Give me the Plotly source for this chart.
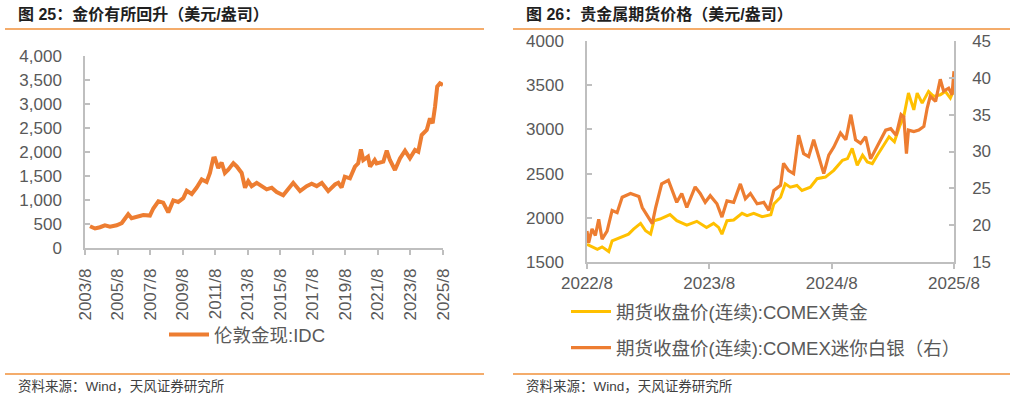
import plotly.graph_objects as go

# ---------------- data ----------------
idc_dates = [
    "2003-11-21", "2004-03-12", "2004-07-03", "2004-10-21", "2005-02-12", "2005-07-12",
    "2005-11-03", "2006-03-28", "2006-06-12", "2006-10-03", "2007-03-01", "2007-07-28",
    "2007-10-12", "2008-02-03", "2008-05-21", "2008-09-12", "2009-01-03", "2009-04-24",
    "2009-08-15", "2009-11-01", "2010-02-21", "2010-06-12", "2010-10-03", "2011-01-21",
    "2011-04-06", "2011-06-18",
    "2011-07-27", "2011-10-09", "2011-12-24", "2012-03-06", "2012-05-21", "2012-09-12",
    "2012-11-27", "2013-03-18", "2013-06-01", "2013-08-13", "2013-10-27", "2014-02-18",
    "2014-06-09", "2014-10-01", "2015-01-21", "2015-05-12", "2015-10-06", "2016-01-28",
    "2016-05-18", "2016-10-18", "2017-03-15", "2017-07-06", "2017-10-27", "2018-02-18",
    "2018-07-12", "2018-12-12", "2019-02-24",
    "2019-05-09", "2019-07-20", "2019-11-12", "2020-03-03", "2020-05-15", "2020-07-15",
    "2020-09-06", "2020-12-21", "2021-02-06", "2021-05-21", "2021-07-03", "2021-12-01",
    "2022-02-15", "2022-04-27", "2022-08-18", "2022-12-09", "2023-04-01", "2023-07-21",
    "2023-11-12", "2024-01-24", "2024-04-09", "2024-08-01", "2024-10-12", "2024-12-12",
    "2025-02-03", "2025-03-24", "2025-05-24", "2025-07-31",
]
idc_values = [
    453, 406, 433, 473, 446, 473, 520, 702, 621, 648, 688, 675, 823, 971, 944, 742,
    991, 958, 1038, 1193, 1126, 1260, 1429, 1375, 1563, 1866,
    1871, 1666, 1781, 1563, 1631, 1768, 1699, 1563, 1256, 1391, 1289, 1358, 1289, 1221,
    1256, 1166, 1098, 1221, 1358, 1186, 1289, 1338, 1289, 1358, 1186, 1323, 1358,
    1260, 1486, 1451, 1694, 1764, 2056, 1833, 1903, 1694, 1833, 1764, 1799, 2028, 1833,
    1625, 1868, 2028, 1868, 2042, 2007, 2354, 2458, 2701, 2597, 2944, 3361, 3431, 3396,
]

gold_dates = [
    "2022-08-01", "2022-09-01", "2022-09-15", "2022-10-05", "2022-10-15", "2022-11-08",
    "2022-12-03", "2022-12-18", "2023-01-08", "2023-01-23", "2023-02-07", "2023-02-17",
    "2023-03-07", "2023-04-06", "2023-04-26", "2023-05-26", "2023-06-25", "2023-07-24",
    "2023-08-14", "2023-08-29", "2023-09-08", "2023-09-23", "2023-10-13", "2023-11-07",
    "2023-11-22", "2023-12-12", "2024-01-06", "2024-02-01", "2024-02-10", "2024-03-01",
    "2024-03-15", "2024-03-30", "2024-04-19", "2024-05-04", "2024-05-29", "2024-06-18",
    "2024-07-13", "2024-08-07", "2024-09-02", "2024-09-17", "2024-10-01", "2024-10-16",
    "2024-11-01", "2024-11-15", "2024-11-30", "2024-12-15", "2024-12-30", "2025-01-19",
    "2025-02-04", "2025-02-19", "2025-03-04", "2025-03-18", "2025-04-03", "2025-04-13",
    "2025-04-28", "2025-05-17", "2025-06-01", "2025-06-21", "2025-07-06", "2025-07-21",
    "2025-08-01",
]
gold_values = [
    1701, 1644, 1671, 1618, 1739, 1777, 1815, 1872, 1937, 1853, 1815, 1967, 1986, 2036,
    1967, 1918, 1960, 1891, 1937, 1891, 1815, 1967, 1975, 2051, 2024, 2051, 2013, 2036,
    2157, 2233, 2385, 2347, 2366, 2309, 2347, 2442, 2461, 2537, 2651, 2670, 2784, 2594,
    2708, 2632, 2613, 2708, 2803, 2917, 2860, 3031, 3145, 3411, 3221, 3411, 3297, 3430,
    3373, 3392, 3430, 3354, 3449,
]

silver_dates = [
    "2022-08-01", "2022-08-06", "2022-08-16", "2022-08-26", "2022-09-05", "2022-09-15",
    "2022-09-30", "2022-10-15", "2022-10-30", "2022-11-14", "2022-12-09", "2023-01-03",
    "2023-01-13", "2023-01-28", "2023-02-12", "2023-02-22", "2023-03-12", "2023-04-01",
    "2023-04-11", "2023-04-26", "2023-05-11", "2023-05-26", "2023-06-20", "2023-07-05",
    "2023-07-20", "2023-08-04", "2023-08-24", "2023-09-08", "2023-09-23", "2023-10-13",
    "2023-11-02", "2023-11-17", "2023-12-02", "2023-12-22", "2024-01-11", "2024-01-26",
    "2024-02-10", "2024-03-01", "2024-03-10", "2024-03-25", "2024-04-09", "2024-04-24",
    "2024-05-09", "2024-05-24", "2024-06-08", "2024-06-23", "2024-07-08", "2024-07-23",
    "2024-08-07", "2024-08-27", "2024-09-12", "2024-09-27", "2024-10-11", "2024-10-26",
    "2024-11-10", "2024-11-25", "2024-12-10", "2024-12-25", "2025-01-09", "2025-01-24",
    "2025-02-09", "2025-02-24", "2025-03-04", "2025-03-12", "2025-03-18", "2025-04-03",
    "2025-04-18", "2025-05-03", "2025-05-13", "2025-05-22", "2025-06-07", "2025-06-21",
    "2025-07-01", "2025-07-16", "2025-07-26", "2025-08-01",
]
silver_values = [
    19.2, 17.6, 19.5, 18.6, 20.8, 18.1, 19.2, 22.0, 21.7, 23.8, 24.3, 23.9, 22.4, 21.3,
    20.2, 22.4, 25.6, 26.1, 24.9, 23.1, 24.3, 22.4, 25.2, 24.3, 23.1, 24.0, 22.9, 21.1,
    23.3, 23.1, 25.6, 23.6, 24.3, 22.9, 23.1, 22.0, 24.7, 25.4, 28.4, 27.4, 27.0, 32.2,
    29.7, 29.3, 31.6, 29.3, 27.0, 29.5, 30.6, 32.5, 31.6, 35.0, 31.6, 31.1, 32.0, 29.0,
    30.2, 31.6, 32.9, 33.1, 32.2, 35.0, 34.7, 29.7, 32.9, 32.7, 32.9, 33.4, 35.9, 37.5,
    36.8, 39.8, 38.2, 38.6, 37.7, 40.9,
]

left_tick_vals = ["2003-08-01", "2005-08-01", "2007-08-01", "2009-08-01", "2011-08-01",
                  "2013-08-01", "2015-08-01", "2017-08-01", "2019-08-01", "2021-08-01",
                  "2023-08-01", "2025-08-01"]
left_tick_text = ["2003/8", "2005/8", "2007/8", "2009/8", "2011/8", "2013/8", "2015/8",
                  "2017/8", "2019/8", "2021/8", "2023/8", "2025/8"]
right_tick_vals = ["2022-08-01", "2023-08-01", "2024-08-01", "2025-08-01"]
right_tick_text = ["2022/8", "2023/8", "2024/8", "2025/8"]

title_left = "图 25：金价有所回升（美元/盎司）"
title_right = "图 26：贵金属期货价格（美元/盎司）"
source_text = "资料来源：Wind，天风证券研究所"
name_idc = "伦敦金现:IDC"
name_gold = "期货收盘价(连续):COMEX黄金"
name_silver = "期货收盘价(连续):COMEX迷你白银（右）"

# ---------------- styling ----------------
W, H = 1016, 396
FONT = "Liberation Sans, Arial, Noto Sans CJK SC, sans-serif"
TICK_COLOR = "#595959"
AXIS_COLOR = "#BFBFBF"
ORANGE = "#ED7D31"
YELLOW = "#FFC000"
RULE = "#F0913A"


def px_x(v):
    return v / W


def px_y(v):
    return 1 - v / H


fig = go.Figure()

fig.add_trace(go.Scatter(
    x=idc_dates, y=idc_values, name=name_idc, mode="lines",
    line=dict(color=ORANGE, width=4), xaxis="x", yaxis="y", legend="legend",
))
fig.add_trace(go.Scatter(
    x=gold_dates, y=gold_values, name=name_gold, mode="lines",
    line=dict(color=YELLOW, width=3), xaxis="x2", yaxis="y2", legend="legend2",
    legendgroup="g1",
))
fig.add_trace(go.Scatter(
    x=silver_dates, y=silver_values, name=name_silver, mode="lines",
    line=dict(color=ORANGE, width=3.2), xaxis="x2", yaxis="y3", legend="legend2",
    legendgroup="g2",
))

tickfont = dict(family=FONT, size=17, color=TICK_COLOR)
axis_common = dict(showgrid=False, zeroline=False, showline=True, linecolor=AXIS_COLOR,
                   linewidth=1.5, tickcolor=AXIS_COLOR, tickwidth=1.5, ticklen=5,
                   tickfont=tickfont, automargin=False)
legend_font = dict(family=FONT, size=18.5, color=TICK_COLOR)

fig.update_layout(
    width=W, height=H,
    margin=dict(l=0, r=0, t=0, b=0, autoexpand=False),
    paper_bgcolor="white", plot_bgcolor="white",
    font=dict(family=FONT, color=TICK_COLOR),
    xaxis=dict(domain=[px_x(85), px_x(443)], anchor="y", type="date",
               range=["2003-08-01", "2025-08-01"], tickmode="array",
               tickvals=left_tick_vals, ticktext=left_tick_text, tickangle=-90,
               ticks="outside", ticklabelstandoff=7, **axis_common),
    yaxis=dict(domain=[px_y(248), px_y(56)], anchor="x", range=[0, 4000], dtick=500,
               tickformat=",", ticks="inside", ticklabelstandoff=18, **axis_common),
    xaxis2=dict(domain=[px_x(587), px_x(954)], anchor="y2", type="date",
                range=["2022-08-01", "2025-08-01"], tickmode="array",
                tickvals=right_tick_vals, ticktext=right_tick_text, tickangle=0,
                ticks="outside", ticklabelstandoff=0, **axis_common),
    yaxis2=dict(domain=[px_y(262), px_y(41)], anchor="x2", range=[1500, 4000], dtick=500,
                ticks="inside", ticklabelstandoff=18, **axis_common),
    yaxis3=dict(overlaying="y2", anchor="x2", side="right", range=[15, 45], dtick=5,
                ticks="inside", ticklabelstandoff=13, **axis_common),
    legend=dict(x=px_x(164), y=px_y(335), xanchor="left", yanchor="middle",
                itemwidth=40, bgcolor="rgba(0,0,0,0)", font=legend_font),
    legend2=dict(x=px_x(566), y=px_y(293), xanchor="left", yanchor="top",
                 itemwidth=40, bgcolor="rgba(0,0,0,0)", tracegroupgap=9,
                 font=legend_font),
    showlegend=True,
)

annotations = [
    dict(text="<b>" + title_left + "</b>", x=px_x(16), y=px_y(14)),
    dict(text="<b>" + title_right + "</b>", x=px_x(524), y=px_y(14)),
]
for a in annotations:
    a.update(xref="paper", yref="paper", xanchor="left", yanchor="middle", showarrow=False,
             font=dict(family=FONT, size=16, color="#1F1F1F"))
for xs in (16, 524):
    annotations.append(dict(text=source_text, x=px_x(xs), y=px_y(386), xref="paper",
                            yref="paper", xanchor="left", yanchor="middle", showarrow=False,
                            font=dict(family=FONT, size=13.5, color="#404040")))
fig.update_layout(annotations=annotations)

shapes = []
for (x0, x1) in ((5, 484), (513, 1010)):
    for yy in (29, 374):
        shapes.append(dict(type="line", xref="paper", yref="paper",
                           x0=px_x(x0), x1=px_x(x1), y0=px_y(yy), y1=px_y(yy),
                           line=dict(color=RULE, width=1.5)))
fig.update_layout(shapes=shapes)

fig.write_html(
    "out.html",
    config={"displayModeBar": False},
    post_script="document.body.style.margin='0px';document.body.style.overflow='hidden';",
)
